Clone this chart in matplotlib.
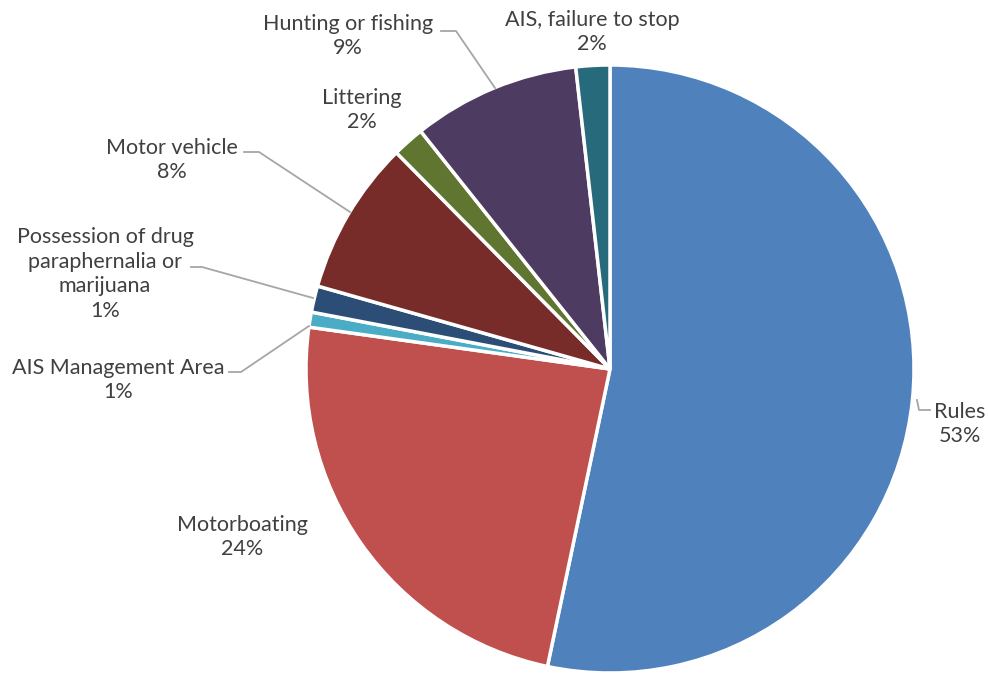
import matplotlib.pyplot as plt

# slices, clockwise from 12 o'clock
categories = ['Rules', 'Motorboating', 'AIS Management Area',
              'Possession of drug\nparaphernalia or\nmarijuana',
              'Motor vehicle', 'Littering', 'Hunting or fishing',
              'AIS, failure to stop']
shares = [53.3, 23.9, 0.8, 1.4, 8.2, 1.7, 8.9, 1.8]
colors = ['#4F81BD', '#C0504D', '#4BACC6', '#2C4D75',
          '#772C2A', '#5F7530', '#4D3B62', '#276A7C']

W, H = 988, 675
CX, CY, R = 610, 369, 304


def to_data(px, py):
    # pixel position (from top left) -> pie data coords
    return (px - CX) / R, (CY - py) / R


# label centre and optional leader line (pixel coords)
label_pos = [(960, 424), (242, 537), (118, 380), (105, 274),
             (172, 160), (362, 110), (348, 36), (592, 32)]
leaders = [
    [(917, 400), (919, 410), (930, 410)],
    None,
    [(229, 372), (241, 372), (309, 326)],
    [(191, 267), (202, 267), (313, 298)],
    [(244, 152), (259, 152), (350, 212)],
    None,
    [(441, 31), (456, 31), (495, 88)],
    None,
]


def main():
    fig = plt.figure(figsize=(W / 100, H / 100), dpi=100)
    ax = fig.add_axes([(CX - R) / W, (H - CY - R) / H, 2 * R / W, 2 * R / H])
    ax.pie(shares, colors=colors, startangle=90, counterclock=False,
           radius=1, wedgeprops=dict(edgecolor='white', linewidth=2.5))
    ax.set_xlim(-1, 1)
    ax.set_ylim(-1, 1)
    ax.set_aspect('equal')
    ax.axis('off')

    for name, val, pos, lead in zip(categories, shares, label_pos, leaders):
        x, y = to_data(*pos)
        ax.text(x, y, f'{name}\n{val:.0f}%', ha='center', va='center',
                fontsize=15.5, family='Lato', color='#404040',
                linespacing=1.3, clip_on=False)
        if lead:
            pts = [to_data(*p) for p in lead]
            ax.plot([p[0] for p in pts], [p[1] for p in pts],
                    color='#A6A6A6', lw=1.3, clip_on=False)

    fig.savefig('out.png', dpi=100)


if __name__ == '__main__':
    main()
